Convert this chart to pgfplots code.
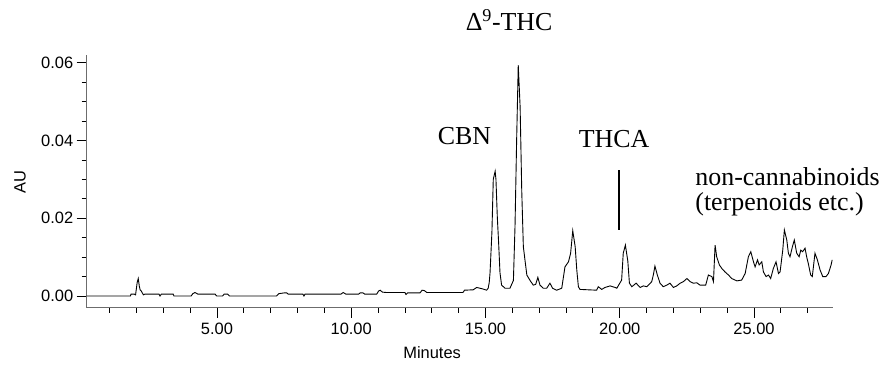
\documentclass[border=0pt]{standalone}
\usepackage{pgfplots}
\pgfplotsset{compat=1.18}
\usepackage{fontspec}
\setmainfont{Liberation Sans}
\newfontfamily\tnr{Liberation Serif}
\usetikzlibrary{calc}
\begin{document}
\begin{tikzpicture}
\begin{axis}[
  name=ax,
  scale only axis,
  width=746bp, height=252.7bp,
  xmin=0.15, xmax=27.93,
  ymin=-0.003, ymax=0.062,
  axis x line*=bottom, axis y line*=left,
  axis line style={draw=gray!85!black, line width=1.6bp},
  xtick={5,10,15,20,25},
  minor xtick={1,2,3,4,6,7,8,9,11,12,13,14,16,17,18,19,21,22,23,24,26,27},
  ytick={0,0.02,0.04,0.06},
  minor ytick={0.005,0.01,0.015,0.025,0.03,0.035,0.045,0.05,0.055},
  tick align=outside,
  major tick length=10bp, minor tick length=5bp,
  tick style={black, line width=0.8bp},
  scaled ticks=false,
  /pgf/number format/assume math mode=true,
  xticklabel style={yshift=-1.5bp, /pgf/number format/.cd, fixed, fixed zerofill, precision=2},
  yticklabel style={/pgf/number format/.cd, fixed, fixed zerofill, precision=2},
  tick label style={font=\fontsize{16.5}{19}\selectfont},
  xlabel={Minutes}, ylabel={AU},
  label style={font=\fontsize{16.5}{19}\selectfont},
  xlabel style={at={(axis description cs:0.463,-0.179)}, anchor=center},
  ylabel style={at={(axis description cs:-0.0894,0.497)}, anchor=center},
  clip=false,
]
\addplot[black, line width=0.9bp, mark=none] table {
0.15 0
1.78 0
1.80 0.0005
1.92 0.0005
1.97 0.0003
2.03 0.0035
2.07 0.0045
2.11 0.0025
2.14 0.0016
2.19 0.0012
2.26 0.0003
2.32 0.0005
2.84 0.0005
2.88 0.0000
2.93 0.0005
3.37 0.0005
3.40 0.0000
4.04 0.0000
4.10 0.0006
4.18 0.0009
4.29 0.0005
4.93 0.0005
4.99 0.0000
5.21 0.0000
5.27 0.0005
5.40 0.0005
5.47 0.0000
7.22 0.0000
7.30 0.0006
7.50 0.0008
7.60 0.0008
7.65 0.0005
8.20 0.0005
8.24 0.0000
8.28 0.0005
9.62 0.0005
9.70 0.0009
9.80 0.0005
10.28 0.0005
10.33 0.0008
10.44 0.0008
10.50 0.0005
10.95 0.0005
11.02 0.0013
11.08 0.0015
11.16 0.0010
11.32 0.0009
12.00 0.0009
12.04 0.0004
12.10 0.0008
12.56 0.0008
12.64 0.0015
12.72 0.0014
12.82 0.0009
14.16 0.0009
14.22 0.0015
14.54 0.0016
14.67 0.0022
14.80 0.0020
14.91 0.0018
15.04 0.0015
15.10 0.0020
15.14 0.0035
15.17 0.0060
15.24 0.0165
15.29 0.0300
15.36 0.0321
15.39 0.0300
15.44 0.0204
15.49 0.0136
15.54 0.0060
15.60 0.0028
15.73 0.0020
15.91 0.0020
16.04 0.0040
16.10 0.0180
16.16 0.0400
16.22 0.0594
16.29 0.0487
16.35 0.0272
16.41 0.0127
16.47 0.0093
16.54 0.0054
16.66 0.0040
16.78 0.0028
16.87 0.0030
16.95 0.0048
17.03 0.0028
17.15 0.0020
17.28 0.0020
17.40 0.0033
17.50 0.0020
17.65 0.0015
17.84 0.0020
17.96 0.0075
18.09 0.0088
18.17 0.0110
18.25 0.0168
18.34 0.0127
18.40 0.0067
18.46 0.0024
18.52 0.0017
19.14 0.0015
19.20 0.0024
19.33 0.0017
19.45 0.0022
19.64 0.0026
19.83 0.0022
19.89 0.0020
20.07 0.0041
20.13 0.0110
20.21 0.0131
20.30 0.0090
20.36 0.0033
20.45 0.0024
20.61 0.0033
20.76 0.0022
20.88 0.0026
21.01 0.0024
21.19 0.0037
21.25 0.0054
21.31 0.0077
21.40 0.0054
21.50 0.0033
21.62 0.0024
21.75 0.0028
21.87 0.0033
22.00 0.0022
22.12 0.0026
22.25 0.0033
22.37 0.0037
22.50 0.0045
22.62 0.0037
22.74 0.0033
22.87 0.0034
22.99 0.0028
23.20 0.0028
23.30 0.0054
23.43 0.0050
23.49 0.0037
23.55 0.0131
23.61 0.0101
23.71 0.0080
23.80 0.0071
23.92 0.0062
24.05 0.0054
24.17 0.0045
24.36 0.0039
24.54 0.0041
24.67 0.0058
24.79 0.0101
24.88 0.0114
24.98 0.0088
25.04 0.0075
25.13 0.0093
25.19 0.0080
25.29 0.0088
25.35 0.0062
25.45 0.0050
25.54 0.0054
25.62 0.0045
25.72 0.0071
25.82 0.0088
25.91 0.0058
25.97 0.0062
26.07 0.0118
26.13 0.0170
26.22 0.0144
26.28 0.0110
26.34 0.0101
26.43 0.0127
26.50 0.0144
26.59 0.0110
26.68 0.0101
26.74 0.0118
26.81 0.0114
26.90 0.0123
26.96 0.0101
27.02 0.0084
27.11 0.0054
27.17 0.0050
27.27 0.0110
27.36 0.0093
27.46 0.0067
27.56 0.0050
27.68 0.0050
27.77 0.0058
27.87 0.0080
27.91 0.0093
};
\node[font=\tnr\fontsize{26}{30}\selectfont, anchor=base] at (axis cs:15.88,0.0684) {Δ\textsuperscript{9}-THC};
\node[font=\tnr\fontsize{26}{30}\selectfont, anchor=base] at (axis cs:14.22,0.0391) {CBN};
\node[font=\tnr\fontsize{26}{30}\selectfont, anchor=base] at (axis cs:19.79,0.0383) {THCA};
\draw[black, line width=2bp] (axis cs:19.98,0.0324) -- (axis cs:19.98,0.0170);
\node[font=\tnr\fontsize{26}{30}\selectfont, anchor=base west, inner xsep=0pt] at (axis cs:22.81,0.0285) {non-cannabinoids};
\node[font=\tnr\fontsize{26}{30}\selectfont, anchor=base west, inner xsep=0pt] at (axis cs:22.81,0.0221) {(terpenoids etc.)};
\end{axis}
\pgfresetboundingbox
\useasboundingbox ($(ax.south west)+(-86.7bp,-61.3bp)$) rectangle ($(ax.north east)+(56.3bp,55bp)$);
\end{tikzpicture}
\end{document}
